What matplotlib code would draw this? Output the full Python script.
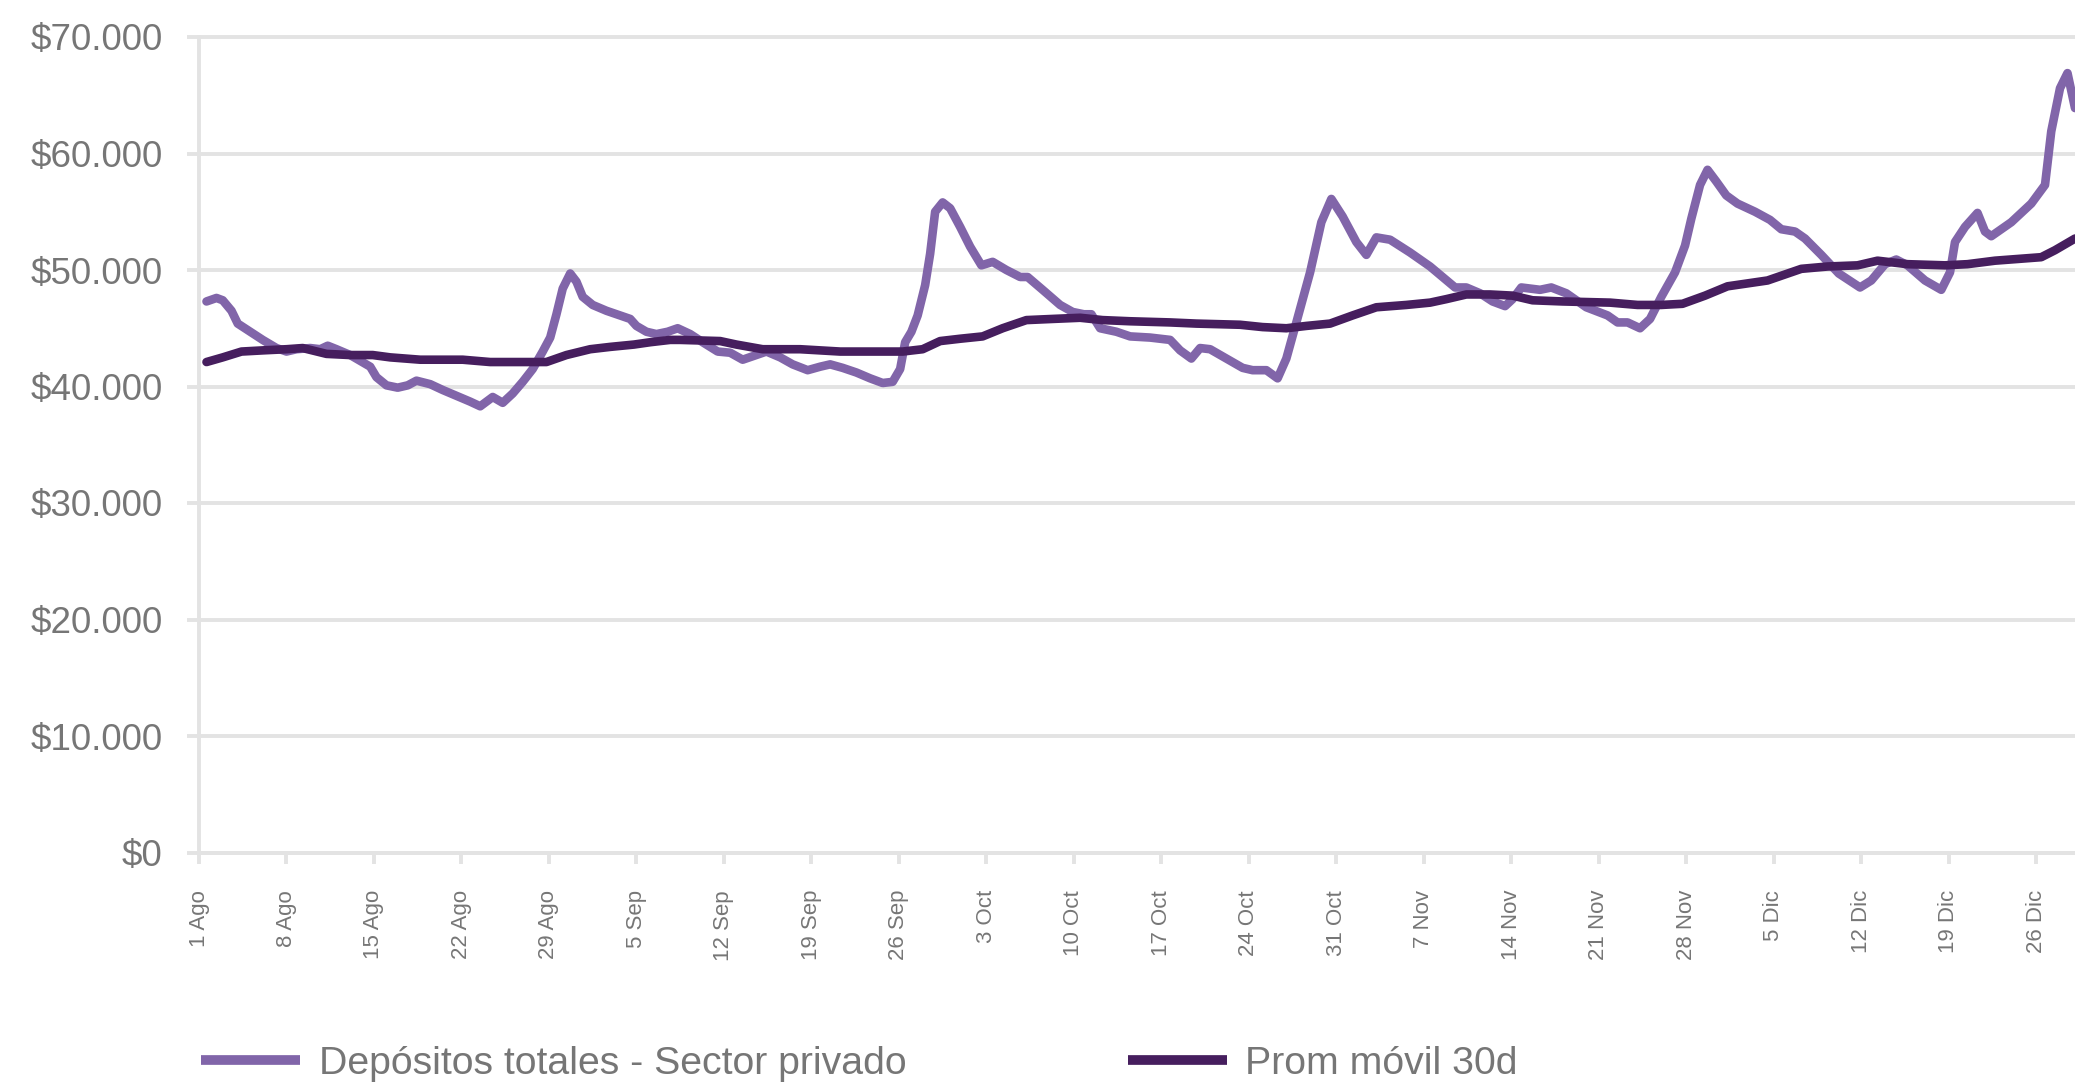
import matplotlib
matplotlib.use("Agg")
import numpy as np
import matplotlib.pyplot as plt
from matplotlib.lines import Line2D

plt.rcParams['font.family'] = ['Liberation Sans Narrow', 'Liberation Sans', 'DejaVu Sans']

# dias desde el 1 de agosto, valores en miles
dias_dep = [0.6, 1.4, 1.9, 2.6, 3.1, 4.1, 5.1, 6.2, 7.0, 7.8, 8.9, 9.7, 10.3, 11.0, 12.1, 12.9,
            13.7, 14.2, 15.0, 15.9, 16.7, 17.4, 18.5, 19.5, 20.6, 21.7, 22.5, 23.5, 24.3, 25.1,
            25.9, 26.7, 27.5, 28.1, 28.6, 29.1, 29.7, 30.2, 30.7, 31.5, 32.6, 33.7, 34.5, 35.0,
            35.8, 36.6, 37.5, 38.3, 39.3, 40.3, 41.5, 42.5, 43.5, 44.6, 45.4, 46.5, 47.5, 48.7,
            49.7, 50.5, 51.5, 52.6, 53.7, 54.7, 55.5, 56.1, 56.5, 57.0, 57.5, 58.1, 58.5, 58.9,
            59.5, 60.1, 60.9, 61.7, 62.6, 63.5, 64.6, 65.7, 66.3, 67.5, 68.9, 69.9, 70.8, 71.4,
            72.1, 73.4, 74.5, 76.1, 77.7, 78.5, 79.4, 80.1, 80.9, 82.2, 83.5, 84.3, 85.4, 86.3,
            87.0, 87.8, 88.9, 89.8, 90.6, 91.5, 92.6, 93.4, 94.2, 95.3, 96.9, 98.5, 99.5, 100.5,
            101.4, 102.5, 103.5, 104.5, 105.1, 105.8, 107.3, 108.2, 109.4, 111.0, 112.7, 113.5,
            114.3, 115.3, 116.1, 117.0, 118.1, 118.9, 119.4, 120.1, 120.7, 121.4, 122.2, 123.1,
            124.5, 125.7, 126.6, 127.7, 128.5, 129.8, 131.2, 132.9, 133.8, 134.9, 135.8, 136.7,
            138.1, 139.4, 140.1, 140.5, 141.3, 142.3, 142.9, 143.4, 145.0, 146.6, 147.7, 148.2,
            148.9, 149.5, 150.1]
depositos = [47.3, 47.6, 47.4, 46.5, 45.4, 44.7, 44.0, 43.3, 43.0, 43.2, 43.3, 43.2, 43.5, 43.2,
             42.7, 42.2, 41.7, 40.8, 40.1, 39.9, 40.1, 40.5, 40.2, 39.7, 39.2, 38.7, 38.3, 39.1,
             38.6, 39.4, 40.4, 41.5, 43.0, 44.2, 46.2, 48.4, 49.7, 49.0, 47.7, 47.0, 46.5, 46.1,
             45.8, 45.2, 44.7, 44.5, 44.7, 45.0, 44.5, 43.8, 43.0, 42.9, 42.3, 42.7, 43.0, 42.5,
             41.9, 41.4, 41.7, 41.9, 41.6, 41.2, 40.7, 40.3, 40.4, 41.5, 43.8, 44.7, 46.1, 48.7,
             51.4, 55.0, 55.8, 55.3, 53.7, 52.0, 50.4, 50.7, 50.0, 49.4, 49.4, 48.3, 47.0, 46.4,
             46.2, 46.2, 45.0, 44.7, 44.3, 44.2, 44.0, 43.1, 42.4, 43.3, 43.2, 42.4, 41.6, 41.4,
             41.4, 40.7, 42.4, 45.5, 49.8, 54.1, 56.1, 54.6, 52.4, 51.3, 52.8, 52.6, 51.5, 50.3,
             49.4, 48.5, 48.5, 48.0, 47.3, 46.9, 47.5, 48.5, 48.3, 48.5, 48.0, 46.8, 46.1, 45.5,
             45.5, 45.0, 45.8, 47.7, 49.8, 52.1, 54.4, 57.3, 58.6, 57.6, 56.4, 55.7, 55.0, 54.3,
             53.5, 53.3, 52.7, 51.3, 49.7, 48.5, 49.1, 50.5, 50.9, 50.4, 49.1, 48.3, 49.8, 52.4,
             53.7, 54.9, 53.3, 52.9, 54.1, 55.7, 57.3, 61.9, 65.6, 66.9, 63.9]

dias_prom = [0.6, 1.9, 3.4, 5.1, 7.0, 8.3, 10.2, 12.1, 13.9, 15.3, 17.7, 21.1, 23.3, 25.9, 27.8,
             29.4, 31.3, 32.9, 34.8, 36.1, 37.7, 38.5, 41.7, 43.0, 45.1, 48.1, 51.3, 54.2, 56.3,
             57.9, 59.3, 60.9, 62.7, 64.3, 66.2, 68.3, 70.5, 72.3, 74.5, 77.7, 79.8, 83.3, 85.1,
             87.0, 88.6, 90.5, 92.3, 94.2, 96.6, 98.5, 99.8, 101.4, 103.3, 105.1, 106.7, 109.1,
             112.9, 115.1, 117.0, 118.7, 120.5, 122.3, 125.5, 128.2, 130.3, 132.7, 134.3, 136.7,
             139.7, 141.5, 143.7, 147.4, 148.5, 150.1]
prom_movil = [42.1, 42.5, 43.0, 43.1, 43.2, 43.3, 42.8, 42.7, 42.7, 42.5, 42.3, 42.3, 42.1, 42.1,
              42.1, 42.7, 43.2, 43.4, 43.6, 43.8, 44.0, 44.0, 43.9, 43.6, 43.2, 43.2, 43.0, 43.0,
              43.0, 43.2, 43.9, 44.1, 44.3, 45.0, 45.7, 45.8, 45.9, 45.7, 45.6, 45.5, 45.4, 45.3,
              45.1, 45.0, 45.2, 45.4, 46.1, 46.8, 47.0, 47.2, 47.5, 47.9, 47.9, 47.8, 47.4, 47.3,
              47.2, 47.0, 47.0, 47.1, 47.8, 48.6, 49.1, 50.1, 50.3, 50.4, 50.8, 50.5, 50.4, 50.5,
              50.8, 51.1, 51.7, 52.7]

semanas = list(range(0, 148, 7))
etiquetas_x = ["1 Ago", "8 Ago", "15 Ago", "22 Ago", "29 Ago", "5 Sep", "12 Sep", "19 Sep",
               "26 Sep", "3 Oct", "10 Oct", "17 Oct", "24 Oct", "31 Oct", "7 Nov", "14 Nov",
               "21 Nov", "28 Nov", "5 Dic", "12 Dic", "19 Dic", "26 Dic"]
niveles_y = [0, 10000, 20000, 30000, 40000, 50000, 60000, 70000]
etiquetas_y = ["$0", "$10.000", "$20.000", "$30.000", "$40.000", "$50.000", "$60.000", "$70.000"]

VIOLETA = "#8165a9"
MORADO = "#461e5e"
GRIS = "#e3e3e3"
TEXTO = "#767676"

fig = plt.figure(figsize=(20.75, 10.83), dpi=100)
ax = fig.add_axes([199 / 2075, 230.5 / 1083, 1 - 199 / 2075, 815.5 / 1083])

ax.plot(dias_dep, np.array(depositos) * 1000, color=VIOLETA, lw=6.2,
        solid_joinstyle='round', solid_capstyle='round', zorder=3)
ax.plot(dias_prom, np.array(prom_movil) * 1000, color=MORADO, lw=6.2,
        solid_joinstyle='round', solid_capstyle='round', zorder=4)

ax.set_xlim(0, 150.1)
ax.set_ylim(0, 70000)

ax.set_yticks(niveles_y)
ax.set_yticklabels(etiquetas_y)
ax.set_xticks(semanas)
ax.set_xticklabels(etiquetas_x, rotation=90, family=['Liberation Sans', 'DejaVu Sans'])

ax.grid(axis='y', color=GRIS, lw=2.8, zorder=0)
ax.set_axisbelow(True)
for gl in ax.yaxis.get_gridlines():
    gl.set_clip_on(False)

for lado in ['top', 'right']:
    ax.spines[lado].set_visible(False)
for lado in ['left', 'bottom']:
    ax.spines[lado].set_color(GRIS)
    ax.spines[lado].set_linewidth(2.8)

ax.tick_params(axis='y', length=9, width=2.8, color=GRIS, pad=17, labelsize=26.5,
               labelcolor=TEXTO)
ax.tick_params(axis='x', length=8, width=2.8, color=GRIS, pad=19, labelsize=16,
               labelcolor=TEXTO)

handles = [Line2D([], [], color=VIOLETA, lw=7, solid_capstyle='butt'),
           Line2D([], [], color=MORADO, lw=7, solid_capstyle='butt')]
leg = fig.legend(handles, ["Depósitos totales - Sector privado", "Prom móvil 30d"],
                 loc='center left', bbox_to_anchor=(201 / 2075, 19 / 1083), ncol=2,
                 frameon=False, fontsize=28.3, handlelength=2.52, handletextpad=0.47,
                 columnspacing=5.64, borderpad=0, borderaxespad=0)
for t in leg.get_texts():
    t.set_color(TEXTO)

fig.savefig("out.png", dpi=100)
